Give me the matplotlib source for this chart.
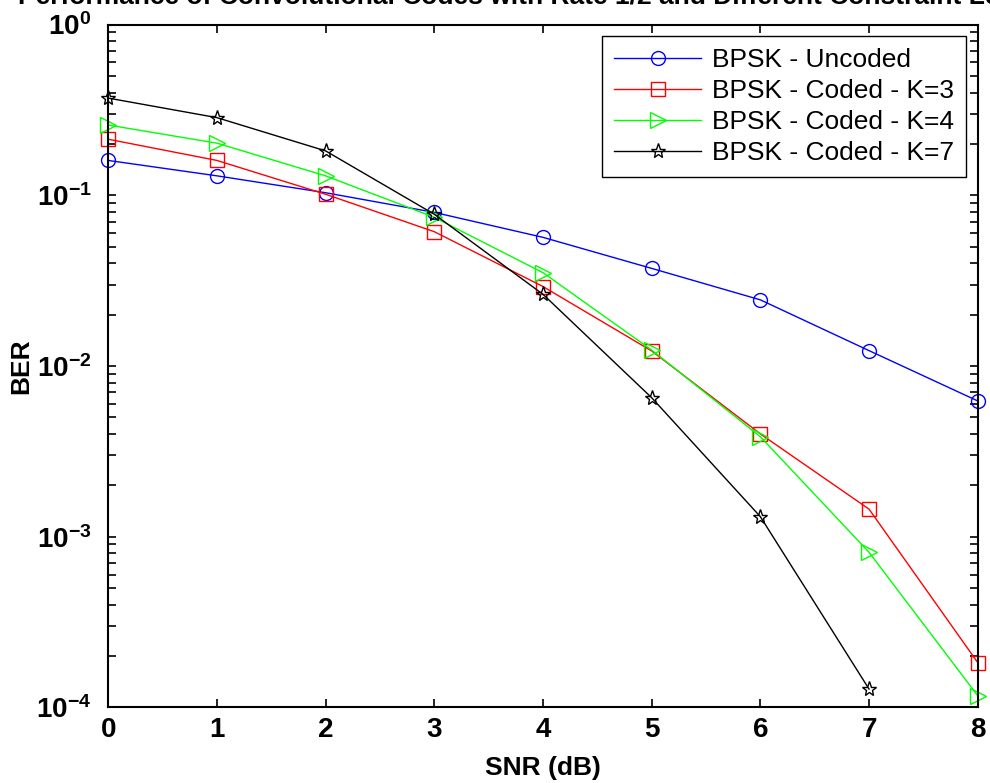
import matplotlib
matplotlib.use("Agg")
import matplotlib.pyplot as plt
import numpy as np

plt.rcParams['font.family'] = ['Liberation Sans', 'DejaVu Sans']
plt.rcParams['mathtext.fontset'] = 'custom'
plt.rcParams['mathtext.bf'] = 'Liberation Sans:bold'
plt.rcParams['mathtext.rm'] = 'Liberation Sans:bold'

# data
snr = [0, 1, 2, 3, 4, 5, 6, 7, 8]
ber_uncoded = [0.160, 0.130, 0.1035, 0.0794, 0.0567, 0.0373, 0.0244, 0.0123, 0.00624]
ber_k3 = [0.213, 0.160, 0.1014, 0.0612, 0.0292, 0.01225, 0.0040, 0.00145, 0.000183]
ber_k4 = [0.258, 0.202, 0.130, 0.0743, 0.0352, 0.0124, 0.00385, 0.00081, 0.000117]
snr_k7 = [0, 1, 2, 3, 4, 5, 6, 7]
ber_k7 = [0.371, 0.285, 0.182, 0.0774, 0.0263, 0.00652, 0.00131, 0.000128]

labels = ['BPSK - Uncoded', 'BPSK - Coded - K=3', 'BPSK - Coded - K=4', 'BPSK - Coded - K=7']

fig = plt.figure(figsize=(9.9, 7.83), dpi=100)
ax = fig.add_axes([0.1093, 0.0966, 0.8783, 0.872])

ax.semilogy(snr, ber_uncoded, '-o', color=(0, 0, 1), mfc='none', ms=10, lw=1.0, mew=1.0,
            label=labels[0], clip_on=False)
ax.semilogy(snr, ber_k3, '-s', color=(1, 0, 0), mfc='none', ms=10, lw=1.0, mew=1.0,
            label=labels[1], clip_on=False)
ax.semilogy(snr, ber_k4, '->', color=(0, 1, 0), mfc='none', ms=12, lw=1.0, mew=1.0,
            label=labels[2], clip_on=False)
ax.semilogy(snr_k7, ber_k7, '-*', color='k', mfc='none', ms=11, lw=1.0, mew=1.0,
            label=labels[3], clip_on=False)

ax.set_xlim(0, 8)
ax.set_ylim(1e-4, 1)
ax.set_xticks(snr)
ax.set_xticklabels([str(v) for v in snr])
yt = [1e-4, 1e-3, 1e-2, 1e-1, 1]
ax.set_yticks(yt)
ax.set_yticklabels([r'$\mathbf{10^{%d}}$' % int(np.log10(v)) for v in yt])
ax.yaxis.set_minor_locator(matplotlib.ticker.LogLocator(base=10, subs=np.arange(2, 10)))
ax.yaxis.set_minor_formatter(matplotlib.ticker.NullFormatter())

ax.tick_params(which='both', direction='in', top=True, right=True, width=1.2)
ax.tick_params(which='major', length=6, labelsize=20, pad=7)
ax.tick_params(axis='y', which='major', labelsize=20, pad=12)
ax.tick_params(which='minor', length=6)
for lbl in ax.get_xticklabels():
    lbl.set_fontweight('bold')
for sp in ax.spines.values():
    sp.set_linewidth(1.5)

ax.set_xlabel('SNR (dB)', fontsize=19, fontweight='bold', labelpad=9)
ax.set_ylabel('BER', fontsize=19, fontweight='bold')
ax.yaxis.set_label_coords(-0.086, 0.5)

fig.text(0.5505, 1 - 9 / 783, 'Performance of Convolutional Codes with Rate 1/2 and Different Constraint Lengths',
         ha='center', va='bottom', fontsize=19, fontweight='bold')

leg = ax.legend(loc='upper right', handlelength=3.3, borderaxespad=0.45,
                fancybox=False, framealpha=1, edgecolor='k', labelspacing=0.26,
                handletextpad=0.4, borderpad=0.45,
                prop={'family': ['Liberation Sans', 'DejaVu Sans'], 'size': 19})
leg.get_frame().set_linewidth(1.0)

fig.savefig('out.png', dpi=100)
